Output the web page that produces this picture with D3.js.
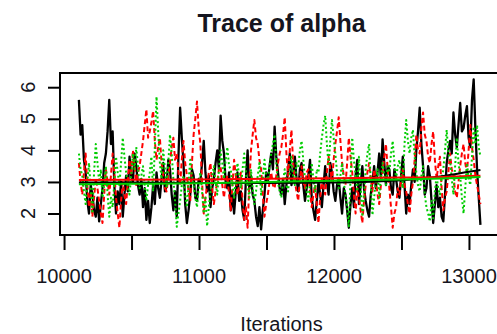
<!DOCTYPE html>
<html>
<head>
<meta charset="utf-8">
<script src="https://cdn.jsdelivr.net/npm/d3@7"></script>
<style>
  html, body { margin: 0; padding: 0; background: #fff; }
  svg { display: block; }
  text { font-family: "Liberation Sans", Arial, sans-serif; fill: #151520; }
</style>
</head>
<body>
<svg id="chart" width="497" height="334"></svg>
<script>
// MCMC trace of alpha: three chains, thinned to one stored draw per 12.5 iterations
const iterStart = 10110;
const iterStep = 12.5;

const chain1 = [
  5.6,4.5, 4.8,3.7, 3.3,2.4, 2.0,2.9, 2.6,2.1, 1.9,2.5, 1.75,2.3, 2.8,3.6, 3.9,4.6, 5.6,4.2,
  4.6,2.9, 2.0,2.7, 2.3,3.0, 1.9,2.6, 3.2,2.7, 3.8,3.2, 3.0,3.9, 3.5,2.9, 2.6,3.1, 2.2,2.8,
  1.8,2.4, 1.7,2.2, 2.9,2.3, 3.3,2.8, 2.5,3.1, 3.6,2.7, 2.9,3.7, 3.4,2.6, 2.1,2.7, 1.9,3.8,
  5.35,4.4, 3.6,2.3, 1.7,2.1, 2.6,3.4, 3.2,2.5, 2.4,3.1, 3.0,3.6, 4.3,3.3, 2.7,3.2, 2.2,2.8,
  3.1,3.6, 4.0,3.4, 5.1,4.3, 3.9,3.0, 2.8,3.3, 2.1,2.6, 2.0,2.7, 3.3,2.4, 2.7,2.1, 1.8,3.1,
  4.0,2.8, 3.2,2.6, 2.4,1.9, 1.6,2.2, 1.5,2.1, 2.6,3.3, 3.0,3.5, 3.9,3.4, 4.75,3.8, 3.3,2.8,
  2.6,3.1, 2.3,2.9, 3.4,3.9, 2.9,3.3, 3.8,3.1, 2.7,3.4, 3.6,2.9, 2.4,2.8, 3.2,3.7, 2.5,2.1,
  1.8,2.4, 3.0,2.6, 2.2,2.9, 3.5,3.0, 2.6,3.6, 3.3,2.7, 2.4,2.9, 3.1,2.5, 2.0,2.8, 2.6,2.1,
  1.55,2.3, 2.8,2.2, 3.2,3.7, 2.3,2.9, 3.5,2.8, 2.4,2.1, 1.9,2.6, 3.0,3.5, 2.8,3.3, 3.9,3.1,
  4.35,3.6, 2.9,3.5, 3.4,2.8, 2.6,3.4, 3.1,2.7, 2.5,3.2, 3.8,2.9, 2.0,2.6, 2.3,2.9, 3.4,3.0,
  4.0,4.6, 5.35,4.2, 3.5,2.6, 2.8,3.5, 3.2,2.4, 1.7,2.3, 2.9,2.2, 2.5,1.9, 1.75,2.6, 3.6,4.0,
  4.3,3.9, 5.2,4.5, 4.1,4.8, 5.5,4.6, 4.7,5.1, 5.4,4.4, 4.1,5.6, 6.25,4.7, 3.4,2.5, 1.64];

const chain2 = [
  3.6,3.0, 2.6,3.3, 3.9,2.9, 2.2,2.7, 1.9,2.5, 3.1,2.8, 2.4,2.0, 1.7,2.6, 3.4,3.0, 2.6,3.2,
  3.9,3.3, 2.5,2.0, 1.55,2.4, 3.0,2.6, 2.3,3.0, 3.7,3.2, 4.0,3.5, 2.9,3.3, 3.5,3.9, 4.3,4.8,
  5.3,4.4, 4.6,4.9, 5.25,4.3, 3.7,4.1, 4.4,3.6, 3.2,2.8, 2.7,3.2, 3.6,4.1, 4.4,3.7, 3.9,3.3,
  2.9,3.7, 4.3,3.6, 3.2,2.7, 2.4,3.6, 4.5,5.0, 5.55,4.7, 4.2,3.0, 2.0,2.5, 2.9,3.3, 3.6,2.8,
  2.3,2.7, 3.0,3.4, 3.5,2.9, 2.5,3.0, 3.2,2.6, 2.1,2.9, 3.7,3.2, 2.6,2.9, 3.3,2.4, 1.8,2.2,
  1.55,2.9, 4.0,4.5, 4.96,4.4, 4.2,3.7, 3.4,2.6, 1.9,2.3, 2.6,3.0, 3.3,2.9, 2.8,3.2, 3.6,3.9,
  4.1,4.5, 5.05,3.9, 3.2,4.0, 4.65,3.6, 3.0,2.7, 2.4,3.1, 3.5,3.0, 2.8,3.3, 3.4,2.7, 2.2,2.6,
  2.9,2.3, 1.7,2.5, 3.1,2.8, 2.6,3.3, 3.8,3.4, 3.0,3.7, 4.2,4.6, 5.05,4.3, 3.6,3.2, 2.9,3.6,
  4.4,3.8, 3.3,2.6, 2.0,2.8, 2.5,2.1, 1.7,2.4, 2.9,3.3, 3.6,3.1, 2.7,3.4, 3.1,2.6, 2.3,2.9,
  3.3,3.8, 4.2,3.4, 2.8,2.2, 1.55,2.0, 2.2,2.8, 2.6,3.1, 3.4,2.9, 2.7,2.3, 2.0,2.6, 3.0,3.7,
  4.5,4.0, 3.9,4.7, 5.2,4.5, 4.3,3.8, 3.6,4.2, 4.6,3.7, 3.1,3.5, 3.8,2.8, 2.1,2.5, 2.7,3.3,
  3.9,3.4, 3.2,2.7, 2.5,3.0, 3.5,3.9, 4.2,3.6, 3.3,4.0, 4.8,4.1, 3.7,3.2, 2.9,2.6, 2.3];

const chain3 = [
  3.9,3.4, 3.2,2.7, 2.3,3.0, 3.6,2.8, 2.0,3.3, 4.2,3.6, 3.0,3.4, 2.5,2.9, 3.5,2.6, 1.9,2.5,
  2.2,3.0, 3.8,3.3, 2.9,3.6, 4.4,3.8, 3.3,2.9, 2.6,3.2, 3.9,3.4, 4.1,3.5, 2.8,3.2, 3.5,2.9,
  2.4,2.9, 3.3,3.8, 2.7,4.1, 5.7,4.6, 3.6,3.1, 4.0,3.4, 2.8,3.6, 4.5,3.9, 3.1,2.4, 1.58,2.0,
  2.4,2.9, 3.2,2.6, 2.2,3.0, 3.7,3.2, 2.9,2.5, 2.2,2.8, 3.3,2.7, 2.0,2.5, 1.6,2.2, 2.7,3.2,
  3.5,3.0, 2.6,3.4, 4.0,3.6, 3.1,3.7, 4.1,3.5, 3.4,2.9, 2.5,3.1, 3.6,3.2, 2.8,3.4, 3.9,3.3,
  2.9,2.5, 3.4,2.8, 2.3,2.7, 3.2,3.6, 2.6,3.1, 3.7,3.2, 3.0,3.5, 3.9,4.2, 4.5,3.6, 3.0,2.7,
  2.5,3.0, 3.4,2.9, 2.7,3.3, 3.8,3.2, 2.9,3.6, 3.5,4.0, 4.3,3.7, 3.1,2.7, 2.4,3.0, 3.6,3.1,
  2.7,3.4, 3.3,3.9, 4.4,4.8, 5.1,4.2, 3.5,4.3, 4.96,4.4, 3.9,3.3, 2.8,3.2, 3.6,3.0, 2.6,2.2,
  1.6,3.1, 4.4,3.7, 3.2,2.7, 3.8,2.9, 1.9,2.6, 3.4,3.9, 4.2,3.0, 1.95,2.5, 3.0,3.4, 2.5,3.1,
  3.6,3.2, 2.9,3.5, 3.3,3.9, 4.3,3.6, 3.1,3.5, 3.7,3.2, 2.8,4.2, 4.96,4.3, 3.9,4.4, 4.65,3.8,
  3.3,2.9, 2.7,3.2, 3.5,2.6, 2.2,2.0, 1.75,2.4, 1.85,2.7, 3.2,2.8, 2.6,3.1, 3.4,4.0, 4.65,3.9,
  3.7,3.1, 2.6,3.5, 4.4,3.6, 3.2,2.5, 2.0,2.8, 3.6,3.1, 2.9,3.8, 4.75,4.2, 4.8,4.1, 3.8];

// Smoothed (lowess) level of each chain
const smoothIter = [10110, 10500, 11000, 11500, 12000, 12500, 12800, 13000, 13085];
const smooth1 = [2.98, 2.98, 2.97, 2.97, 2.98, 3.05, 3.18, 3.32, 3.38];
const smooth2 = [3.06, 3.07, 3.08, 3.10, 3.12, 3.14, 3.16, 3.19, 3.20];
const smooth3 = [2.93, 2.94, 2.96, 3.00, 3.04, 3.08, 3.11, 3.14, 3.16];

const xTicks = [10000, 10500, 11000, 11500, 12000, 12500, 13000];
const xTickLabels = ["10000", "11000", "12000", "13000"];
const yTicks = [2, 3, 4, 5, 6];

const svg = d3.select("#chart");
const frame = { left: 60, right: 503, top: 73, bottom: 235 };

const x = d3.scaleLinear().domain([9970, 13230]).range([frame.left, 500]);
const y = d3.scaleLinear().domain([1.32, 6.45]).range([frame.bottom, frame.top]);

const chains = [
  { values: chain1, color: "#000000", dash: null, width: 2.3 },
  { values: chain2, color: "#ff0000", dash: "5,3", width: 2 },
  { values: chain3, color: "#00cd00", dash: "2,2.5", width: 2 }
];
const smooths = [
  { values: smooth1, color: "#000000" },
  { values: smooth2, color: "#ff0000" },
  { values: smooth3, color: "#00cd00" }
];

const plot = svg.append("g");

const traceLine = d3.line()
  .x((d, i) => x(iterStart + i * iterStep))
  .y(d => y(d));

chains.forEach(c => {
  plot.append("path")
    .attr("d", traceLine(c.values))
    .attr("fill", "none")
    .attr("stroke", c.color)
    .attr("stroke-width", c.width)
    .attr("stroke-linejoin", "round")
    .attr("stroke-dasharray", c.dash);
});

const smoothLine = d3.line()
  .x((d, i) => x(smoothIter[i]))
  .y(d => y(d))
  .curve(d3.curveMonotoneX);

smooths.forEach(s => {
  plot.append("path")
    .attr("d", smoothLine(s.values))
    .attr("fill", "none")
    .attr("stroke", s.color)
    .attr("stroke-width", 2);
});

// Plot frame
svg.append("rect")
  .attr("x", frame.left).attr("y", frame.top)
  .attr("width", frame.right - frame.left).attr("height", frame.bottom - frame.top)
  .attr("fill", "none").attr("stroke", "#000").attr("stroke-width", 2);

// Bottom axis
const xAxis = d3.axisBottom(x)
  .tickValues(xTicks)
  .tickSize(15)
  .tickFormat(() => "");
const gx = svg.append("g").attr("transform", `translate(0,${frame.bottom})`).call(xAxis);
gx.select(".domain").remove();
gx.selectAll(".tick line").attr("stroke", "#000").attr("stroke-width", 2);

svg.append("g").selectAll("text")
  .data(xTickLabels)
  .join("text")
  .attr("x", d => x(+d))
  .attr("y", 283)
  .attr("text-anchor", "middle")
  .attr("font-size", 20)
  .text(d => d);

// Left axis
const yAxis = d3.axisLeft(y)
  .tickValues(yTicks)
  .tickSize(12)
  .tickFormat(() => "");
const gy = svg.append("g").attr("transform", `translate(${frame.left},0)`).call(yAxis);
gy.select(".domain").remove();
gy.selectAll(".tick line").attr("stroke", "#000").attr("stroke-width", 2);

svg.append("g").selectAll("text")
  .data(yTicks)
  .join("text")
  .attr("transform", d => `translate(35,${y(d)}) rotate(-90)`)
  .attr("text-anchor", "middle")
  .attr("font-size", 20)
  .text(d => d);

// Titles
svg.append("text")
  .attr("x", (frame.left + frame.right) / 2)
  .attr("y", 32)
  .attr("text-anchor", "middle")
  .attr("font-size", 25)
  .attr("font-weight", "bold")
  .text("Trace of alpha");

svg.append("text")
  .attr("x", (frame.left + frame.right) / 2)
  .attr("y", 331)
  .attr("text-anchor", "middle")
  .attr("font-size", 20)
  .text("Iterations");
</script>
</body>
</html>
